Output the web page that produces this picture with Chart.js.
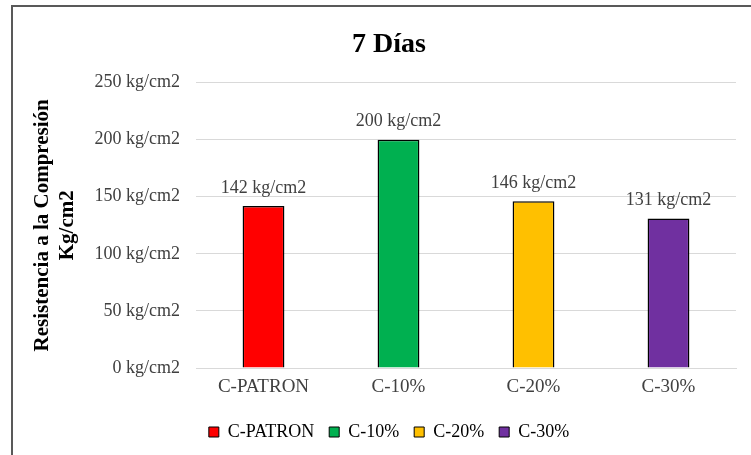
<!DOCTYPE html>
<html>
<head>
<meta charset="utf-8">
<script src="https://cdn.jsdelivr.net/npm/chart.js@4/dist/chart.umd.min.js"></script>
<style>
  html, body { margin: 0; padding: 0; background: #fff; }
  #wrap { width: 751px; height: 455px; }
</style>
</head>
<body>
<div id="wrap"><canvas id="c" width="751" height="455"></canvas></div>
<script>
// Compression strength at 7 days, one bar per mix
const categories = ['C-PATRON', 'C-10%', 'C-20%', 'C-30%'];
const strength = [142, 200, 146, 131];
const barColors = ['#FF0000', '#00B050', '#FFC000', '#7030A0'];
const yTicks = [0, 50, 100, 150, 200, 250];
const unit = ' kg/cm2';

const SERIF = '"Liberation Serif", "Times New Roman", serif';

// Frame around the whole figure
const framePlugin = {
  id: 'frame',
  beforeDraw(chart) {
    const ctx = chart.ctx;
    ctx.save();
    ctx.fillStyle = '#fff';
    ctx.fillRect(0, 0, chart.width, chart.height);
    ctx.strokeStyle = '#595959';
    ctx.lineWidth = 2;
    ctx.strokeRect(12, 6, 900, 700);
    ctx.restore();
  }
};

// Value labels above each bar
const valueLabels = {
  id: 'valueLabels',
  afterDatasetsDraw(chart) {
    const ctx = chart.ctx;
    const meta = chart.getDatasetMeta(0);
    ctx.save();
    ctx.font = '18px ' + SERIF;
    ctx.fillStyle = '#404040';
    ctx.textAlign = 'center';
    ctx.textBaseline = 'bottom';
    meta.data.forEach((bar, i) => {
      ctx.fillText(strength[i] + unit, bar.x, bar.y - 9);
    });
    ctx.restore();
  }
};

new Chart(document.getElementById('c'), {
  type: 'bar',
  data: {
    labels: categories,
    datasets: [{
      data: strength,
      backgroundColor: barColors,
      borderColor: '#000',
      borderWidth: 1.5,
      categoryPercentage: 1,
      barPercentage: 0.31
    }]
  },
  options: {
    responsive: false,
    animation: false,
    layout: { padding: { left: 42, right: 15, top: 10, bottom: 4 } },
    plugins: {
      title: {
        display: true,
        text: '7 Días',
        color: '#000',
        font: { family: SERIF, size: 28, weight: 'bold' },
        padding: { top: 18, bottom: 21 }
      },
      legend: {
        position: 'bottom',
        labels: {
          boxWidth: 10,
          boxHeight: 10,
          padding: 15,
          color: '#404040',
          font: { family: SERIF, size: 18 },
          generateLabels() {
            return categories.map((c, i) => ({
              text: c,
              fillStyle: barColors[i],
              strokeStyle: '#000',
              lineWidth: 1,
              hidden: false,
              index: i
            }));
          }
        }
      },
      tooltip: { enabled: false }
    },
    scales: {
      x: {
        afterFit(scale) { scale.height = 40; },
        grid: { display: false, drawTicks: false },
        border: { color: '#d9d9d9', width: 1 },
        ticks: { color: '#404040', font: { family: SERIF, size: 19 }, padding: 8 }
      },
      y: {
        min: 0,
        max: 250,
        afterBuildTicks(scale) {
          scale.ticks = yTicks.map(v => ({ value: v }));
        },
        afterFit(scale) { scale.width = 154; },
        grid: { color: '#d9d9d9', drawTicks: false },
        border: { display: false },
        ticks: {
          color: '#404040',
          font: { family: SERIF, size: 18 },
          padding: 16,
          callback: v => v + unit
        },
        title: {
          display: true,
          text: ['Resistencia a la Compresión', 'Kg/cm2'],
          color: '#000',
          font: { family: SERIF, size: 21, weight: 'bold', lineHeight: 1.2 },
          padding: { top: -12, bottom: 0 }
        }
      }
    }
  },
  plugins: [framePlugin, valueLabels]
});
</script>
</body>
</html>
